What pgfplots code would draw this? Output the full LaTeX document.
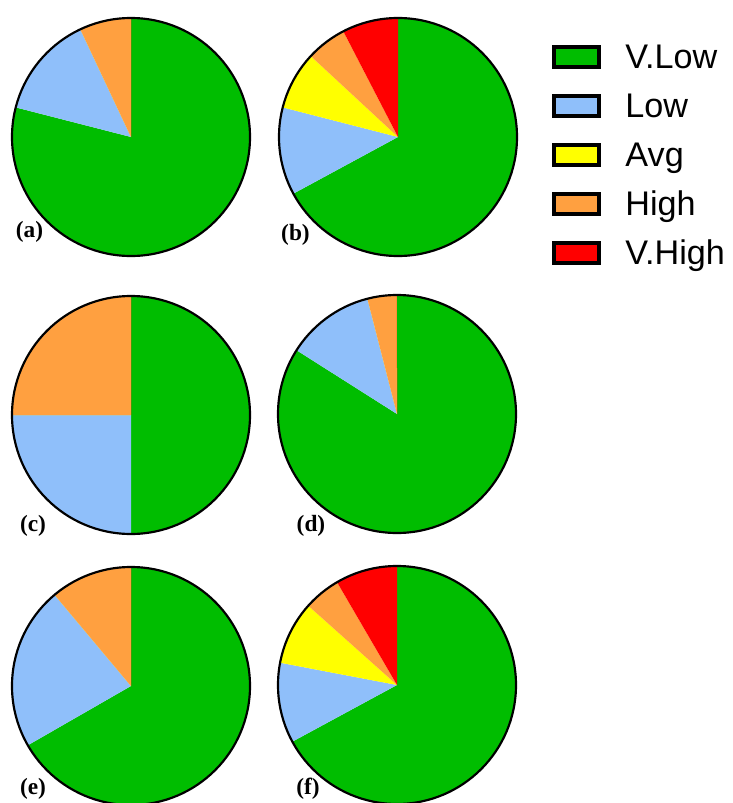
\documentclass[border=0pt]{standalone}
\usepackage{pgfplots}
\usepackage{pgfplotstable}
\pgfplotsset{compat=1.18}
\usepackage{fontspec}
\setmainfont{Liberation Serif}
\newfontfamily\legfont{Liberation Sans}
\definecolor{cVLow}{RGB}{0,189,0}
\definecolor{cLow}{RGB}{143,191,250}
\definecolor{cAvg}{RGB}{255,255,0}
\definecolor{cHigh}{RGB}{255,160,64}
\definecolor{cVHigh}{RGB}{255,0,0}

\pgfplotstableread{
level a     b     c    d    e     f
VLow  0.790 0.671 0.50 0.84 0.667 0.671
Low   0.140 0.119 0.25 0.12 0.222 0.109
Avg   0.000 0.079 0.00 0.00 0.000 0.086
High  0.070 0.055 0.25 0.04 0.111 0.050
VHigh 0.000 0.076 0.00 0.00 0.000 0.084
}\pietab

\newcommand\R{71.4pt}
\newcommand\piecalc[1]{%
  \pgfplotstablegetelem{0}{#1}\of\pietab\pgfmathsetmacro\pA{\pgfplotsretval}%
  \pgfplotstablegetelem{1}{#1}\of\pietab\pgfmathsetmacro\pB{\pgfplotsretval}%
  \pgfplotstablegetelem{2}{#1}\of\pietab\pgfmathsetmacro\pC{\pgfplotsretval}%
  \pgfplotstablegetelem{3}{#1}\of\pietab\pgfmathsetmacro\pD{\pgfplotsretval}%
  \pgfplotstablegetelem{4}{#1}\of\pietab\pgfmathsetmacro\pE{\pgfplotsretval}%
  \pgfmathsetmacro\tA{90}%
  \pgfmathsetmacro\tB{\tA-360*\pA}%
  \pgfmathsetmacro\tC{\tB-360*\pB}%
  \pgfmathsetmacro\tD{\tC-360*\pC}%
  \pgfmathsetmacro\tE{\tD-360*\pD}%
  \pgfmathsetmacro\tF{\tE-360*\pE}%
}
\newcommand\slice[3]{\fill[#1] (axis cs:0,0) -- ++(#2:\R) arc[start angle=#2, end angle=#3, radius=\R] -- cycle;}
\newcommand\drawpie{%
  \slice{cVLow}{\tA}{\tB}
  \slice{cLow}{\tB}{\tC}
  \slice{cAvg}{\tC}{\tD}
  \slice{cHigh}{\tD}{\tE}
  \slice{cVHigh}{\tE}{\tF}
  \draw[black, line width=1.3pt] (axis cs:0,0) circle[radius=\R];
}
\pgfplotsset{
  pieaxis/.style={x=\R, y=\R, xmin=-1, xmax=1, ymin=-1, ymax=1,
    hide axis, anchor=origin, clip=false},
  legbox/.style={legend image code/.code={\draw[line width=2.4pt] (1.2pt,-6pt) rectangle (28.2pt,6pt);}}
}

\begin{document}
\begin{tikzpicture}
\useasboundingbox (0,0) rectangle (439.2pt,-481.8pt);

\piecalc{a}
\begin{axis}[pieaxis, at={(78.6pt,-82.2pt)}]
\drawpie
\end{axis}

\piecalc{b}
\begin{axis}[pieaxis, at={(238.8pt,-82.2pt)},
  legend cell align=left,
  legend style={at={(1.147,0.891)}, anchor=north west, draw=none, fill=none,
    inner sep=0pt, row sep=14.7pt, column sep=14.5pt,
    font=\legfont\fontsize{20.5}{21}\selectfont,
    nodes={inner sep=0pt, text height=14.7pt, text depth=0pt}}]
\drawpie
\addlegendimage{legbox, fill=cVLow, draw=black}\addlegendentry{V.Low}
\addlegendimage{legbox, fill=cLow, draw=black}\addlegendentry{Low}
\addlegendimage{legbox, fill=cAvg, draw=black}\addlegendentry{Avg}
\addlegendimage{legbox, fill=cHigh, draw=black}\addlegendentry{High}
\addlegendimage{legbox, fill=cVHigh, draw=black}\addlegendentry{V.High}
\end{axis}

\piecalc{c}
\begin{axis}[pieaxis, at={(78.6pt,-249pt)}]
\drawpie
\end{axis}

\piecalc{d}
\begin{axis}[pieaxis, at={(238.2pt,-248.4pt)}]
\drawpie
\end{axis}

\piecalc{e}
\begin{axis}[pieaxis, at={(78.6pt,-411.6pt)}]
\drawpie
\end{axis}

\piecalc{f}
\begin{axis}[pieaxis, at={(238.2pt,-411pt)}]
\drawpie
\end{axis}

\begin{scope}[every node/.style={font=\bfseries\fontsize{14}{16}\selectfont, inner sep=0pt}]
\node at (17.7pt,-139.2pt) {(a)};
\node at (177.3pt,-141pt) {(b)};
\node at (19.8pt,-315.6pt) {(c)};
\node at (186.6pt,-315.6pt) {(d)};
\node at (19.8pt,-473.4pt) {(e)};
\node at (184.8pt,-473.4pt) {(f)};
\end{scope}
\end{tikzpicture}
\end{document}
